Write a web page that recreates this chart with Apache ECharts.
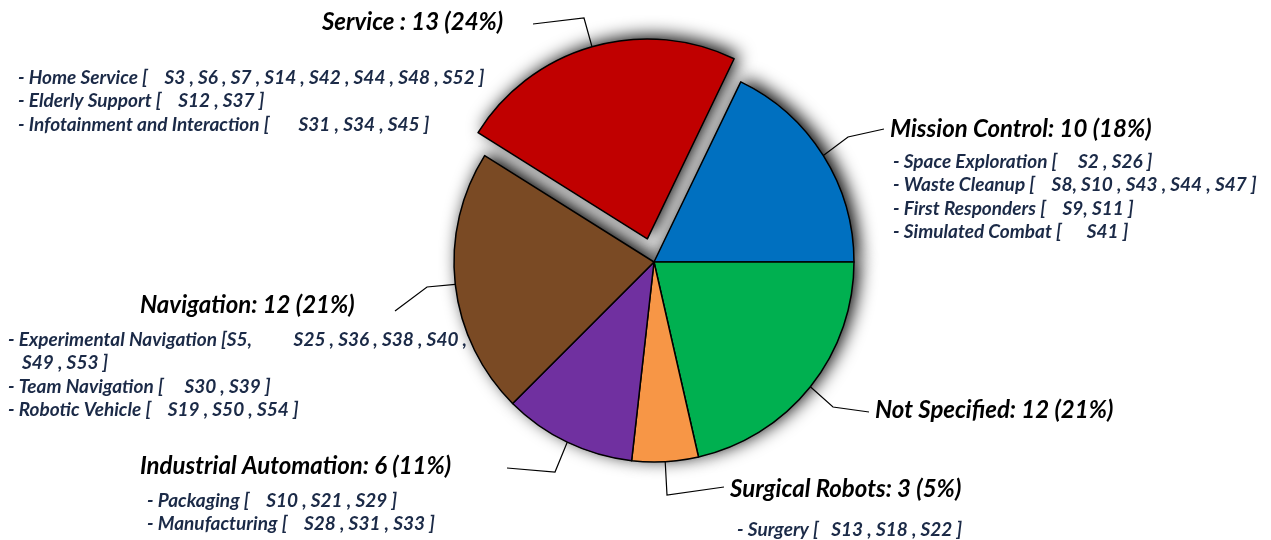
<!DOCTYPE html>
<html>
<head>
<meta charset="utf-8">
<script src="https://cdn.jsdelivr.net/npm/echarts@6/dist/echarts.min.js"></script>
<style>
  html, body { margin: 0; padding: 0; background: #fff; }
  #main { width: 1271px; height: 540px; }
</style>
</head>
<body>
<div id="main"></div>
<script>
// slices, clockwise starting from Mission Control
var categories = ['Mission Control', 'Not Specified', 'Surgical Robots', 'Industrial Automation', 'Navigation', 'Service '];
var counts = [10, 12, 3, 6, 12, 13];
var percents = [18, 21, 5, 11, 21, 24];

// sub-categories listed under each label
var missionDetails = [
  '- Space Exploration [     S2 , S26 ]',
  '- Waste Cleanup [    S8, S10 , S43 , S44 , S47 ]',
  '- First Responders [    S9, S11 ]',
  '- Simulated Combat [      S41 ]'
];
var notSpecifiedDetails = [];
var surgicalDetails = ['- Surgery [   S13 , S18 , S22 ]'];
var industrialDetails = [
  '- Packaging [    S10 , S21 , S29 ]',
  '- Manufacturing [    S28 , S31 , S33 ]'
];
var navigationDetails = [
  '- Experimental Navigation [S5,          S25 , S36 , S38 , S40 ,',
  '  S49 , S53 ]',
  '- Team Navigation [     S30 , S39 ]',
  '- Robotic Vehicle [    S19 , S50 , S54 ]'
];
var serviceDetails = [
  '- Home Service [    S3 , S6 , S7 , S14 , S42 , S44 , S48 , S52 ]',
  '- Elderly Support [    S12 , S37 ]',
  '- Infotainment and Interaction [       S31 , S34 , S45 ]'
];
var details = [missionDetails, notSpecifiedDetails, surgicalDetails, industrialDetails, navigationDetails, serviceDetails];
var explodedIndex = 5; // Service is pulled out

// styling / placement (not data)
var colors = ['#0070C0', '#00B050', '#F79646', '#7030A0', '#7A4A24', '#C00000'];
var places = [
  { x: 890, y: 116, tPad: 0,   dPad: 3, gap: 8,  elbow: [848, 137], end: [884, 129] },
  { x: 875, y: 397, tPad: 0,   dPad: 0, gap: 0,  elbow: [833, 407], end: [869, 412] },
  { x: 730, y: 476, tPad: 0,   dPad: 7, gap: 16, elbow: [667, 495], end: [724, 487] },
  { x: 140, y: 453, tPad: 0,   dPad: 7, gap: 10, elbow: [555, 472], end: [507, 468] },
  { x: 8,   y: 292, tPad: 132, dPad: 0, gap: 10, elbow: [427, 287], end: [395, 311] },
  { x: 18,  y: 9,   tPad: 304, dPad: 0, gap: 31, elbow: [584, 18],  end: [533, 24] }
];
var pieCenter = [654, 262];
var pieRadius = 200;
var explodeOffset = 24;

var fontFamily = 'Lato, "Open Sans", sans-serif';
var total = counts.reduce(function (a, b) { return a + b; }, 0);
var startAngle = 360 * counts[0] / total;

// centre of the pulled-out slice, moved along its mid angle
var before = counts.slice(0, explodedIndex).reduce(function (a, b) { return a + b; }, 0);
var midAngle = (startAngle - (before + counts[explodedIndex] / 2) * 360 / total) * Math.PI / 180;
var explodedCenter = [
  pieCenter[0] + explodeOffset * Math.cos(midAngle),
  pieCenter[1] - explodeOffset * Math.sin(midAngle)
];

function hiddenItem(i) {
  return {
    name: categories[i],
    value: counts[i],
    itemStyle: { color: 'rgba(0,0,0,0)', borderWidth: 0, shadowBlur: 0, shadowColor: 'rgba(0,0,0,0)' },
    label: { show: false },
    labelLine: { show: false }
  };
}

function shadowItem(i) {
  return {
    name: categories[i],
    value: counts[i],
    itemStyle: { color: '#000', borderWidth: 0, shadowBlur: 18, shadowOffsetX: 5, shadowOffsetY: -3, shadowColor: '#000' },
    label: { show: false },
    labelLine: { show: false }
  };
}

function colorItem(i) {
  var p = places[i];
  var lines = ['{t|' + categories[i] + ': ' + counts[i] + ' (' + percents[i] + '%)}'];
  if (details[i].length) {
    lines.push('{g| }');
    details[i].forEach(function (d, k) {
      lines.push((i === 4 && k === 1) ? '{w|' + d.trim() + '}' : '{d|' + d + '}');
    });
  }
  var detailStyle = { fontFamily: fontFamily, fontSize: 19, fontWeight: 'bold', fontStyle: 'italic', color: '#1B2A47', lineHeight: 23.5 };
  return {
    name: categories[i],
    value: counts[i],
    itemStyle: { color: colors[i] },
    label: {
      show: true,
      formatter: lines.join('\n'),
      rich: {
        t: { fontFamily: fontFamily, fontSize: 24, fontWeight: 'bold', fontStyle: 'italic', color: '#000', lineHeight: 26, padding: [0, 0, 0, p.tPad] },
        g: { fontSize: 4, lineHeight: p.gap },
        d: Object.assign({ padding: [0, 0, 0, p.dPad] }, detailStyle),
        w: Object.assign({ padding: [0, 0, 0, p.dPad + 14] }, detailStyle)
      }
    }
  };
}

function layoutLabel(params) {
  var p = places[params.dataIndex];
  if (!params.labelLinePoints) {
    return {};
  }
  return {
    x: p.x,
    y: p.y,
    align: 'left',
    verticalAlign: 'top',
    labelLinePoints: [params.labelLinePoints[0], p.elbow, p.end]
  };
}

function pieSeries(name, center, exploded, shadow) {
  var data = categories.map(function (n, i) {
    var visible = exploded ? i === explodedIndex : i !== explodedIndex;
    if (!visible) return hiddenItem(i);
    return shadow ? shadowItem(i) : colorItem(i);
  });
  return {
    name: name,
    type: 'pie',
    z: shadow ? 1 : 2,
    center: center,
    radius: pieRadius,
    startAngle: startAngle,
    clockwise: true,
    avoidLabelOverlap: false,
    silent: true,
    itemStyle: { borderColor: '#000', borderWidth: 1.5 },
    label: { position: 'outside', overflow: 'none' },
    labelLine: {
      show: true,
      smooth: false,
      lineStyle: { color: '#000', width: 1.2, shadowBlur: 0 }
    },
    emphasis: { disabled: true },
    labelLayout: shadow ? null : function (params) {
      var visible = exploded ? params.dataIndex === explodedIndex : params.dataIndex !== explodedIndex;
      return visible ? layoutLabel(params) : {};
    },
    data: data
  };
}

var chart = echarts.init(document.getElementById('main'), null, { renderer: 'canvas' });

chart.setOption({
  backgroundColor: '#fff',
  animation: false,
  series: [
    pieSeries('main shadow', pieCenter, false, true),
    pieSeries('exploded shadow', explodedCenter, true, true),
    pieSeries('main', pieCenter, false, false),
    pieSeries('exploded', explodedCenter, true, false)
  ]
});
</script>
</body>
</html>
